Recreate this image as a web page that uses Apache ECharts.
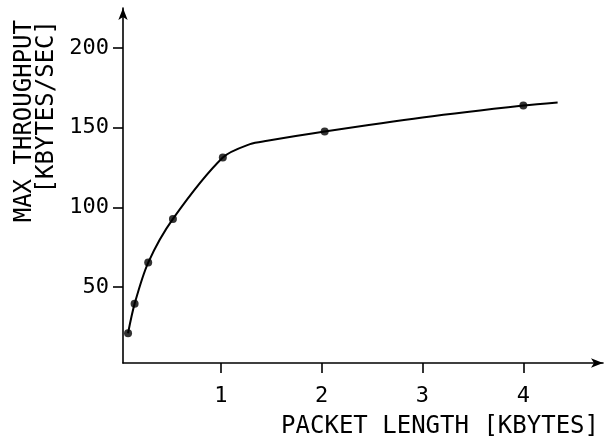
<!DOCTYPE html>
<html>
<head>
<meta charset="utf-8">
<script src="https://cdn.jsdelivr.net/npm/echarts@6/dist/echarts.min.js"></script>
<style>
  html, body { margin: 0; padding: 0; background: #fff; }
  #main { width: 609px; height: 441px; }
</style>
</head>
<body>
<div id="main"></div>
<script>
// 测量点 (packet length in kbytes, max throughput in kbytes/sec)
const packetKB = [0.08, 0.145, 0.28, 0.525, 1.02, 2.03, 4.0];
const throughput = [21, 39.4, 65.3, 92.7, 131.2, 147.5, 163.8];
// 拟合曲线上读出的点
const curveKB = [0.08, 0.145, 0.28, 0.525, 1.02, 1.29, 1.46, 2.03, 3.0, 4.0, 4.34];
const curveVal = [21, 39.4, 65.3, 92.7, 131.2, 139.6, 141.7, 147.5, 156.3, 163.8, 165.7];
// 刻度
const xTicks = [1, 2, 3, 4];
const yTicks = [50, 100, 150, 200];

const font = '"DejaVu Sans Mono", monospace';

var myChart = echarts.init(document.getElementById('main'));

let option = {
  animation: false,
  backgroundColor: '#fff',
  grid: { left: 123, right: 6, top: 8, bottom: 78 },
  xAxis: {
    type: 'value',
    min: 0.03,
    max: 4.79,
    splitLine: { show: false },
    axisLine: {
      onZero: false,
      symbol: ['none', 'arrow'],
      symbolSize: [7, 12],
      lineStyle: { color: '#000', width: 1.6 }
    },
    axisTick: { customValues: xTicks, length: 10, lineStyle: { color: '#000', width: 1.6 } },
    axisLabel: { customValues: xTicks, margin: 22, color: '#000', fontFamily: font, fontSize: 22 }
  },
  yAxis: {
    type: 'value',
    min: 2.3,
    max: 225,
    splitLine: { show: false },
    axisLine: {
      onZero: false,
      symbol: ['none', 'arrow'],
      symbolSize: [7, 12],
      lineStyle: { color: '#000', width: 1.6 }
    },
    axisTick: { customValues: yTicks, length: 10, lineStyle: { color: '#000', width: 1.6 } },
    axisLabel: { customValues: yTicks, margin: 14, color: '#000', fontFamily: font, fontSize: 22 }
  },
  graphic: [
    {
      type: 'text',
      x: 599,
      y: 427,
      style: {
        text: 'PACKET LENGTH [KBYTES]',
        font: '24px ' + font,
        fill: '#000',
        align: 'right',
        verticalAlign: 'middle'
      }
    },
    {
      type: 'text',
      x: 14,
      y: 20,
      rotation: Math.PI / 2,
      style: {
        text: 'MAX THROUGHPUT\n[KBYTES/SEC]',
        font: '24px ' + font,
        lineHeight: 22,
        fill: '#000',
        align: 'right',
        verticalAlign: 'top'
      }
    }
  ],
  series: [
    {
      type: 'line',
      data: curveKB.map((x, i) => [x, curveVal[i]]),
      smooth: 0.3,
      showSymbol: false,
      lineStyle: { color: '#000', width: 2 }
    },
    {
      type: 'scatter',
      data: packetKB.map((x, i) => [x, throughput[i]]),
      symbolSize: 8,
      itemStyle: { color: '#000' }
    }
  ]
};

myChart.setOption(option);
</script>
</body>
</html>
